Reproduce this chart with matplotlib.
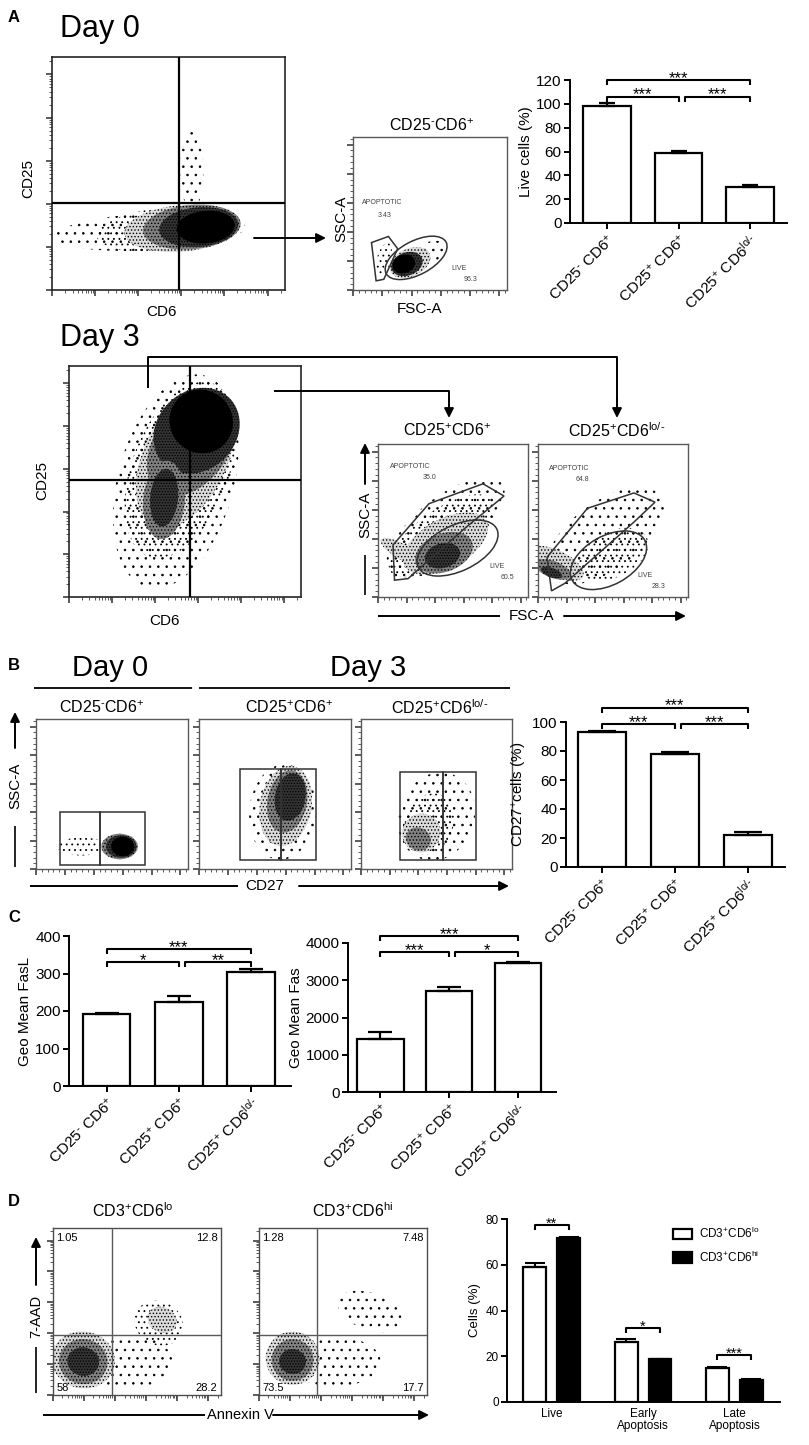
import numpy as np
import matplotlib
matplotlib.use('Agg')
import matplotlib.pyplot as plt
from matplotlib.patches import Ellipse, Polygon, Rectangle

plt.rcParams['font.family'] = ['Liberation Sans', 'DejaVu Sans']
plt.rcParams['mathtext.fontset'] = 'custom'
plt.rcParams['mathtext.rm'] = 'Liberation Sans'
plt.rcParams['mathtext.default'] = 'regular'
plt.rcParams['hatch.linewidth'] = 0.6

W, H = 809, 1445

# ---------------- data ----------------
groups3 = [r'CD25$^{\text{-}}$ CD6$^{+}$', r'CD25$^{+}$ CD6$^{+}$', r'CD25$^{+}$ CD6$^{\text{lo/-}}$']
flow_titles = [r'CD25$^{\text{-}}$CD6$^{+}$', r'CD25$^{+}$CD6$^{+}$', r'CD25$^{+}$CD6$^{\text{lo/-}}$']

live_mean = [98.3, 59.1, 30.0]
live_err = [2.0, 1.0, 1.5]
live_sig = [(0, 1, 106, '***'), (1, 2, 106, '***'), (0, 2, 120, '***')]

cd27_mean = [92.9, 78.1, 22.1]
cd27_err = [0.6, 1.5, 2.3]
cd27_sig = [(0, 1, 98.6, '***'), (1, 2, 98.6, '***'), (0, 2, 110, '***')]

fasl_mean = [193, 224, 304]
fasl_err = [3, 16, 7]
fasl_sig = [(0, 1, 331, '*'), (1, 2, 331, '**'), (0, 2, 365, '***')]

fas_mean = [1434, 2722, 3466]
fas_err = [190, 90, 30]
fas_sig = [(0, 1, 3758, '***'), (1, 2, 3758, '*'), (0, 2, 4188, '***')]

d_cats = ['Live', 'Early\nApoptosis', 'Late\nApoptosis']
d_lo_mean = [59.0, 26.2, 14.7]
d_lo_err = [1.7, 1.5, 0.7]
d_hi_mean = [71.7, 18.6, 9.6]
d_hi_err = [0.6, 0.4, 0.6]
d_sig = [(0, 77.4, '**'), (1, 32.3, '*'), (2, 20.5, '***')]
d_labels = [r'CD3$^{+}$CD6$^{lo}$', r'CD3$^{+}$CD6$^{hi}$']

day0_gate = ['3.43', '96.3']
day3_pos_gate = ['35.0', '60.5']
day3_lo_gate = ['64.8', '28.3']
quad_lo = ['1.05', '12.8', '58', '28.2']
quad_hi = ['1.28', '7.48', '73.5', '17.7']

fig = plt.figure(figsize=(W / 100, H / 100), dpi=100)


def ax_px(x0, y0, x1, y1):
    return fig.add_axes([x0 / W, 1 - y1 / H, (x1 - x0) / W, (y1 - y0) / H])


def flow_axes(rect, log=True, color='0.35', lw=1.0):
    ax = ax_px(*rect)
    ax.set_xlim(0, 1)
    ax.set_ylim(0, 1)
    for s in ax.spines.values():
        s.set_color(color)
        s.set_linewidth(lw)
    if log:
        step = 0.185
        major = np.arange(0, 1.001, step)
        minor = [m + step * np.log10(k) for m in major for k in range(2, 10)]
        minor = [v for v in minor if v < 1]
    else:
        major = np.arange(0, 1.001, 0.19)
        minor = np.arange(0, 1.0, 0.038)
    for axis in (ax.xaxis, ax.yaxis):
        axis.set_ticks(major)
        axis.set_ticks(minor, minor=True)
    ax.tick_params(which='both', direction='out', labelbottom=False, labelleft=False,
                   colors='0.25')
    ax.tick_params(which='major', length=4, width=1.2)
    ax.tick_params(which='minor', length=2, width=0.6)
    return ax


# stipple per density level: 1 sparse ... 5 very dense, 0 = solid core
STIPPLE = {1: ('none', '..'), 2: ('none', '...'), 3: ('0.86', '.....'),
           4: ('0.5', '.....'), 5: ('0.2', '......')}


def cloud(ax, blobs):
    # stippled density regions standing in for the event clouds
    for cx, cy, w, h, ang, lev in blobs:
        if lev == 0:
            ax.add_patch(Ellipse((cx, cy), w, h, angle=ang, facecolor='black',
                                 edgecolor='none', zorder=1))
        else:
            fc, hatch = STIPPLE[lev]
            ax.add_patch(Ellipse((cx, cy), w, h, angle=ang, facecolor=fc,
                                 edgecolor='black', linewidth=0, hatch=hatch, zorder=1))


def bracket(ax, x0, x1, y, label, drop, fs=12):
    ax.plot([x0, x0, x1, x1], [y - drop, y, y, y - drop], color='black', lw=1.5,
            clip_on=False, solid_capstyle='butt')
    ax.annotate(label, ((x0 + x1) / 2, y), xytext=(0, -2), textcoords='offset points',
                ha='center', va='baseline', fontsize=fs, annotation_clip=False)


def bar_chart(rect, means, errs, ymax, ystep, ylabel, sig, xlim, width, capsize, fs=11):
    ax = ax_px(*rect)
    x = np.arange(len(means))
    ax.bar(x, means, width=width, color='white', edgecolor='black', linewidth=1.6, zorder=2)
    ax.errorbar(x, means, yerr=[np.zeros(len(errs)), errs], fmt='none', ecolor='black',
                elinewidth=1.6, capsize=capsize, capthick=1.6, zorder=3)
    ax.set_xlim(*xlim)
    ax.set_ylim(0, ymax)
    ax.set_yticks(np.arange(0, ymax + 1, ystep))
    ax.set_xticks(x)
    ax.set_xticklabels(groups3, rotation=45, ha='right', va='top', rotation_mode='anchor',
                       fontsize=fs - 0.5)
    ax.spines[['top', 'right']].set_visible(False)
    ax.spines[['left', 'bottom']].set_linewidth(1.4)
    ax.tick_params(direction='out', length=4, width=1.4, labelsize=fs, pad=2)
    ax.set_ylabel(ylabel, fontsize=fs, labelpad=2)
    drop = 5 / ((rect[3] - rect[1]) / ymax)
    for i, j, y, lab in sig:
        x0 = i + (0.09 if i == 1 else 0)
        bracket(ax, x0, j, y, lab, drop)
    return ax


# ---------------- A: Day 0 ----------------
ax = flow_axes((52, 57, 285, 290), log=True, color='0.15', lw=1.2)
cloud(ax, [(0.6, 0.52, 0.1, 0.36, 0, 1),
           (0.42, 0.25, 0.82, 0.16, 3, 1),
           (0.5, 0.26, 0.62, 0.19, 5, 2),
           (0.56, 0.265, 0.5, 0.2, 5, 3),
           (0.6, 0.27, 0.42, 0.19, 5, 4),
           (0.63, 0.27, 0.34, 0.17, 5, 5),
           (0.66, 0.27, 0.25, 0.14, 5, 0)])
ax.axvline(0.545, color='black', lw=1.6, zorder=3)
ax.axhline(0.373, color='black', lw=1.6, zorder=3)

ax = flow_axes((353, 137, 507, 290), log=False)
cloud(ax, [(0.2, 0.2, 0.22, 0.09, 75, 2),
           (0.42, 0.2, 0.4, 0.16, 30, 1),
           (0.37, 0.18, 0.28, 0.18, 25, 3),
           (0.35, 0.17, 0.21, 0.15, 20, 5),
           (0.33, 0.17, 0.15, 0.12, 20, 0)])
ax.add_patch(Polygon([(0.12, 0.31), (0.23, 0.35), (0.29, 0.27), (0.2, 0.07), (0.15, 0.06)],
                     closed=True, fill=False, edgecolor='0.2', lw=1.1, zorder=2))
ax.add_patch(Ellipse((0.41, 0.21), 0.44, 0.22, angle=28, fill=False, edgecolor='0.2', lw=1.1, zorder=2))
ax.text(0.06, 0.56, 'APOPTOTIC', fontsize=5, color='0.25')
ax.text(0.16, 0.48, day0_gate[0], fontsize=5, color='0.25')
ax.text(0.64, 0.13, 'LIVE', fontsize=5, color='0.25')
ax.text(0.72, 0.06, day0_gate[1], fontsize=5, color='0.25')

bar_chart((570, 80, 787, 223), live_mean, live_err, 120, 20, 'Live cells (%)', live_sig,
          (-0.52, 2.52), 0.67, 6)

# ---------------- A: Day 3 ----------------
ax = flow_axes((69, 366, 301, 597), log=True, color='0.15', lw=1.2)
cloud(ax, [(0.46, 0.5, 0.95, 0.5, 75, 1),
           (0.48, 0.55, 0.8, 0.42, 70, 2),
           (0.5, 0.6, 0.64, 0.36, 65, 3),
           (0.53, 0.66, 0.5, 0.32, 55, 4),
           (0.55, 0.72, 0.4, 0.34, 45, 5),
           (0.41, 0.42, 0.34, 0.18, 85, 4),
           (0.41, 0.43, 0.25, 0.12, 85, 5),
           (0.57, 0.76, 0.27, 0.28, 40, 0)])
ax.axvline(0.52, color='black', lw=1.6, zorder=3)
ax.axhline(0.506, color='black', lw=1.6, zorder=3)

ax = flow_axes((378, 444, 528, 597), log=False)
cloud(ax, [(0.45, 0.45, 0.95, 0.4, 38, 1),
           (0.42, 0.4, 0.82, 0.33, 35, 2),
           (0.45, 0.35, 0.62, 0.32, 28, 3),
           (0.15, 0.3, 0.1, 0.3, 60, 3),
           (0.44, 0.29, 0.4, 0.25, 20, 4),
           (0.43, 0.27, 0.24, 0.16, 15, 5)])
ax.add_patch(Polygon([(0.11, 0.11), (0.1, 0.34), (0.34, 0.61), (0.7, 0.74), (0.84, 0.66),
                      (0.58, 0.45), (0.2, 0.12)], closed=True, fill=False,
                     edgecolor='0.2', lw=1.1, zorder=2))
ax.add_patch(Ellipse((0.53, 0.32), 0.58, 0.3, angle=25, fill=False, edgecolor='0.2', lw=1.1, zorder=2))
ax.text(0.08, 0.84, 'APOPTOTIC', fontsize=5, color='0.25')
ax.text(0.3, 0.77, day3_pos_gate[0], fontsize=5, color='0.25')
ax.text(0.74, 0.19, 'LIVE', fontsize=5, color='0.25')
ax.text(0.82, 0.12, day3_pos_gate[1], fontsize=5, color='0.25')

ax = flow_axes((538, 444, 688, 597), log=False)
cloud(ax, [(0.45, 0.4, 0.9, 0.45, 35, 1),
           (0.5, 0.28, 0.5, 0.3, 25, 2),
           (0.12, 0.22, 0.17, 0.4, 65, 3),
           (0.1, 0.18, 0.11, 0.25, 70, 4),
           (0.09, 0.16, 0.06, 0.15, 70, 5)])
ax.add_patch(Polygon([(0.09, 0.04), (0.06, 0.26), (0.33, 0.58), (0.64, 0.68), (0.78, 0.62),
                      (0.64, 0.49), (0.18, 0.09)], closed=True, fill=False,
                     edgecolor='0.2', lw=1.1, zorder=2))
ax.add_patch(Ellipse((0.47, 0.24), 0.55, 0.32, angle=28, fill=False, edgecolor='0.2', lw=1.1, zorder=2))
ax.text(0.07, 0.83, 'APOPTOTIC', fontsize=5, color='0.25')
ax.text(0.25, 0.76, day3_lo_gate[0], fontsize=5, color='0.25')
ax.text(0.66, 0.13, 'LIVE', fontsize=5, color='0.25')
ax.text(0.76, 0.06, day3_lo_gate[1], fontsize=5, color='0.25')

# ---------------- B ----------------
b_rects = [(36, 719, 188, 869), (199, 719, 351, 869), (361, 719, 512, 869)]
b_blobs = [
    [(0.3, 0.15, 0.32, 0.12, 0, 2), (0.55, 0.15, 0.24, 0.17, 0, 4),
     (0.56, 0.15, 0.2, 0.15, 0, 5), (0.57, 0.15, 0.15, 0.13, 0, 0)],
    [(0.55, 0.38, 0.64, 0.44, 85, 1), (0.57, 0.42, 0.54, 0.34, 80, 3),
     (0.58, 0.45, 0.42, 0.26, 80, 4), (0.6, 0.48, 0.32, 0.2, 80, 5)],
    [(0.5, 0.35, 0.6, 0.5, 70, 1), (0.45, 0.3, 0.42, 0.32, 70, 2),
     (0.4, 0.24, 0.26, 0.25, 60, 3), (0.38, 0.2, 0.15, 0.17, 60, 4)],
]
b_gates = [((0.16, 0.42, 0.72), (0.03, 0.38)),
           ((0.27, 0.54, 0.77), (0.06, 0.67)),
           ((0.26, 0.54, 0.76), (0.06, 0.65))]
for rect, blobs, (gx, gy) in zip(b_rects, b_blobs, b_gates):
    ax = flow_axes(rect, log=False)
    cloud(ax, blobs)
    for a, b in ((gx[0], gx[1]), (gx[1], gx[2])):
        ax.add_patch(Rectangle((a, gy[0]), b - a, gy[1] - gy[0], fill=False,
                               edgecolor='0.2', lw=1.1, zorder=2))

bar_chart((566, 722, 785, 867), cd27_mean, cd27_err, 100, 20, r'CD27$^{+}$cells (%)', cd27_sig,
          (-0.49, 2.51), 0.66, 10)

# ---------------- C ----------------
bar_chart((69, 936, 291, 1086), fasl_mean, fasl_err, 400, 100, 'Geo Mean FasL', fasl_sig,
          (-0.52, 2.55), 0.66, 8.5)
bar_chart((348, 943, 556, 1092), fas_mean, fas_err, 4000, 1000, 'Geo Mean Fas', fas_sig,
          (-0.47, 2.55), 0.675, 8.5)

# ---------------- D ----------------
d_rects = [(53, 1228, 221, 1395), (259, 1228, 427, 1395)]
d_blobs = [
    [(0.45, 0.2, 0.52, 0.32, 0, 1), (0.63, 0.43, 0.26, 0.3, 60, 2), (0.65, 0.45, 0.15, 0.18, 60, 3),
     (0.18, 0.21, 0.34, 0.38, 80, 3), (0.18, 0.2, 0.27, 0.29, 80, 4), (0.18, 0.2, 0.17, 0.19, 80, 5)],
    [(0.45, 0.2, 0.55, 0.3, 0, 1), (0.66, 0.5, 0.22, 0.4, 70, 1),
     (0.2, 0.22, 0.32, 0.32, 80, 3), (0.2, 0.21, 0.25, 0.25, 80, 4), (0.2, 0.2, 0.15, 0.16, 80, 5)],
]
d_quad = [(0.35, 0.36), (0.345, 0.36)]
for rect, blobs, (qx, qy), nums in zip(d_rects, d_blobs, d_quad, (quad_lo, quad_hi)):
    ax = flow_axes(rect, log=True, color='0.3')
    cloud(ax, blobs)
    ax.axvline(qx, color='0.35', lw=1.0, zorder=3)
    ax.axhline(qy, color='0.35', lw=1.0, zorder=3)
    ax.text(0.02, 0.97, nums[0], fontsize=8, va='top', ha='left')
    ax.text(0.98, 0.97, nums[1], fontsize=8, va='top', ha='right')
    ax.text(0.02, 0.01, nums[2], fontsize=8, va='bottom', ha='left', zorder=4)
    ax.text(0.98, 0.01, nums[3], fontsize=8, va='bottom', ha='right', zorder=4)

axd = ax_px(507, 1219, 780, 1402)
xd = np.arange(len(d_cats))
off, bw = 0.185, 0.25
axd.bar(xd - off, d_lo_mean, bw, color='white', edgecolor='black', linewidth=1.6,
        zorder=2, label=d_labels[0])
axd.bar(xd + off, d_hi_mean, bw, color='black', edgecolor='black', linewidth=1.6,
        zorder=2, label=d_labels[1])
axd.errorbar(xd - off, d_lo_mean, yerr=[np.zeros(3), d_lo_err], fmt='none', ecolor='black',
             elinewidth=1.5, capsize=7, capthick=1.5, zorder=3)
axd.errorbar(xd + off, d_hi_mean, yerr=[np.zeros(3), d_hi_err], fmt='none', ecolor='black',
             elinewidth=1.5, capsize=7, capthick=1.5, zorder=3)
axd.set_xlim(-0.49, 2.5)
axd.set_ylim(0, 80)
axd.set_yticks(np.arange(0, 81, 20))
axd.set_xticks(xd)
axd.set_xticklabels(d_cats, fontsize=8.5, linespacing=1.1)
axd.spines[['top', 'right']].set_visible(False)
axd.spines[['left', 'bottom']].set_linewidth(1.4)
axd.tick_params(axis='y', direction='out', length=4, width=1.4, labelsize=8.5, pad=2)
axd.tick_params(axis='x', length=0, pad=4)
axd.set_ylabel('Cells (%)', fontsize=9.5, labelpad=3)
drop = 5 / (183 / 80)
for g, y, lab in d_sig:
    bracket(axd, g - off, g + off, y, lab, drop, fs=10.5)
axd.legend(loc='upper left', bbox_to_anchor=(0.57, 1.02), frameon=False, fontsize=8.5,
           handlelength=1.6, handleheight=1.0, labelspacing=0.7, handletextpad=0.6)

# ---------------- overlay: panel letters, titles, arrows ----------------
ov = fig.add_axes([0, 0, 1, 1])
ov.set_xlim(0, W)
ov.set_ylim(H, 0)
ov.axis('off')
ov.set_zorder(10)

def arrow(x0, y0, x1, y1):
    ov.annotate('', xy=(x1, y1), xytext=(x0, y0),
                arrowprops=dict(arrowstyle='-|>', lw=1.4, color='black', mutation_scale=14,
                                shrinkA=0, shrinkB=0))

def line(xs, ys, lw=1.4):
    ov.plot(xs, ys, color='black', lw=lw, solid_capstyle='butt')

for letter, (lx, ly) in zip('ABCD', [(8, 18), (8, 665), (8, 918), (8, 1202)]):
    ov.text(lx, ly, letter, fontsize=12, fontweight='bold', va='center', ha='left')

ov.text(60, 29, 'Day 0', fontsize=22, va='center', ha='left')
ov.text(28, 178, 'CD25', fontsize=11, rotation=90, va='center', ha='center')
ov.text(162, 312, 'CD6', fontsize=11, va='center', ha='center')
arrow(254, 238, 326, 238)
ov.text(432, 126, flow_titles[0], fontsize=11.5, va='center', ha='center')
ov.text(341, 219, 'SSC-A', fontsize=11, rotation=90, va='center', ha='center')
ov.text(420, 309, 'FSC-A', fontsize=11, va='center', ha='center')

ov.text(60, 338, 'Day 3', fontsize=22, va='center', ha='left')
ov.text(42, 480, 'CD25', fontsize=11, rotation=90, va='center', ha='center')
ov.text(165, 621, 'CD6', fontsize=11, va='center', ha='center')
line([148, 148, 617, 617], [388, 357, 357, 400])
arrow(617, 398, 617, 418)
line([274, 449, 449], [391, 391, 400])
arrow(449, 398, 449, 418)
ov.text(447, 431, flow_titles[1], fontsize=11.5, va='center', ha='center')
ov.text(617, 431, flow_titles[2], fontsize=11.5, va='center', ha='center')
arrow(365, 484, 365, 443)
ov.text(365, 515, 'SSC-A', fontsize=11, rotation=90, va='center', ha='center')
line([365, 365], [555, 595], lw=1.2)
line([378, 500], [616, 616])
ov.text(532, 616, 'FSC-A', fontsize=11, va='center', ha='center')
arrow(564, 616, 686, 616)

ov.text(110, 668, 'Day 0', fontsize=21, va='center', ha='center')
ov.text(368, 668, 'Day 3', fontsize=21, va='center', ha='center')
line([34, 192], [688, 688], lw=1.3)
line([199, 510], [688, 688], lw=1.3)
for tx, t in zip((102, 289, 440), flow_titles):
    ov.text(tx, 708, t, fontsize=11.5, va='center', ha='center')
arrow(15, 748, 15, 712)
ov.text(15, 786, 'SSC-A', fontsize=11, rotation=90, va='center', ha='center')
line([15, 15], [826, 867], lw=1.2)
line([30, 238], [886, 886])
ov.text(265, 886, 'CD27', fontsize=11, va='center', ha='center')
arrow(299, 886, 509, 886)

ov.text(133, 1211, d_labels[0], fontsize=11.5, va='center', ha='center')
ov.text(353, 1211, d_labels[1], fontsize=11.5, va='center', ha='center')
arrow(36, 1285, 36, 1237)
ov.text(36, 1316, '7-AAD', fontsize=10.5, rotation=90, va='center', ha='center')
line([36, 36], [1347, 1393], lw=1.2)
line([43, 205], [1415, 1415])
ov.text(240, 1415, 'Annexin V', fontsize=10.5, va='center', ha='center')
arrow(273, 1415, 429, 1415)

fig.savefig('out.png', dpi=100)
